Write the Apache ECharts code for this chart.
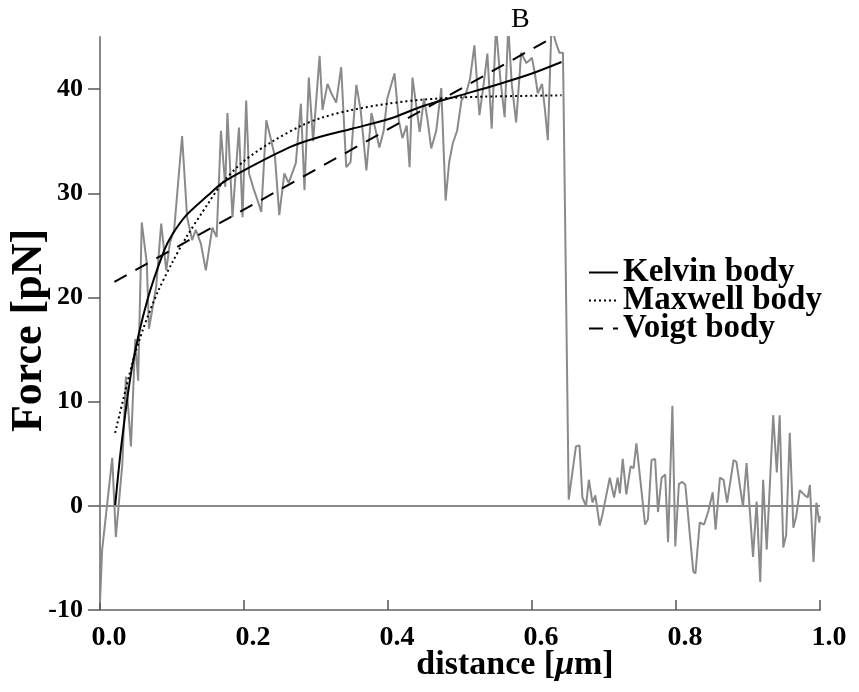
<!DOCTYPE html>
<html>
<head>
<meta charset="utf-8">
<script src="https://cdn.jsdelivr.net/npm/echarts@6.0.0/dist/echarts.min.js"></script>
<style>
  html, body { margin: 0; padding: 0; background: #fff; }
  #chart { width: 859px; height: 692px; }
</style>
</head>
<body>
<div id="chart"></div>
<script>
// measured force curve (grey)
const distance = [0.000,0.003,0.017,0.022,0.031,0.036,0.043,0.049,0.053,0.058,0.065,0.068,0.078,0.085,0.092,0.097,0.103,0.114,0.121,0.128,0.133,0.140,0.147,0.156,0.162,0.168,0.174,0.177,0.184,0.193,0.198,0.203,0.207,0.213,0.218,0.224,0.231,0.238,0.243,0.249,0.256,0.262,0.272,0.279,0.284,0.290,0.296,0.305,0.309,0.316,0.322,0.328,0.335,0.342,0.348,0.356,0.362,0.370,0.377,0.383,0.388,0.394,0.399,0.409,0.415,0.420,0.426,0.430,0.434,0.440,0.444,0.450,0.455,0.460,0.467,0.474,0.480,0.485,0.490,0.496,0.502,0.508,0.514,0.520,0.527,0.532,0.538,0.544,0.550,0.556,0.562,0.567,0.572,0.578,0.585,0.592,0.597,0.600,0.604,0.608,0.614,0.618,0.622,0.627,0.633,0.638,0.643,0.651,0.661,0.666,0.670,0.675,0.679,0.684,0.688,0.694,0.698,0.708,0.714,0.719,0.722,0.726,0.731,0.737,0.741,0.745,0.752,0.757,0.761,0.766,0.771,0.775,0.780,0.785,0.789,0.795,0.799,0.804,0.809,0.813,0.819,0.824,0.827,0.833,0.839,0.845,0.851,0.855,0.861,0.866,0.871,0.880,0.884,0.893,0.898,0.907,0.912,0.917,0.921,0.926,0.935,0.940,0.944,0.949,0.953,0.958,0.963,0.967,0.972,0.979,0.983,0.986,0.991,0.995,0.999,1.000];
const force = [-9.3,-4.2,4.6,-3,4,12.4,5.7,16,12,27.2,23.3,17,21,27.1,22.6,25.2,26.5,35.5,27.7,25.5,26.5,25.2,22.6,26.7,25.8,36,30.6,37.7,27.7,36.3,27.7,38.9,31.9,30.5,29.5,28.2,37,35,33.5,27.9,31.9,31,32.9,38.6,30.3,41.1,35,43.2,38,40.5,39.5,38.7,42.1,32.5,33,40.4,38,32.2,37.7,36,34.4,36,39.1,41.5,37,35.3,36.5,32.5,41.1,38,35.9,39.1,37,34.3,36,40.1,29.3,33,34.8,36,38.9,39.5,41,44.2,37.5,40,43.4,36.2,46,41,37.3,46,40.4,36.8,43.5,42.5,42.8,43,41.5,39.6,40.5,38,35.1,46,44.5,43.5,43.5,0.6,5.7,5.8,0.8,0,2.5,0.3,1,-1.9,-0.8,2.7,0.8,2.7,1.2,4.5,1.1,3.8,3.6,6,1.5,-1.8,-1.3,4.4,4.5,-0.6,2.7,3,-3.5,9.6,-3.9,2.1,2.3,2,-2.6,-6.3,-6.5,-1.6,-1.8,-0.5,1.3,-2.3,2.7,2.5,0.3,4.4,4.2,-0.1,4.1,-4.9,0.4,-7.3,2.5,-4.2,8.7,3.2,8.7,-4,-2.8,7,-2.1,-1,1.5,1,0.8,2,-5.4,0.3,-1.6,-1];

// fitted models
const kelvinX = [0.021,0.03,0.045,0.066,0.089,0.10,0.12,0.15,0.17,0.20,0.263,0.30,0.35,0.40,0.45,0.50,0.55,0.60,0.641];
const kelvinY = [0,6,13.5,19.8,24.5,26,27.9,29.8,31,32.2,34.4,35.3,36.2,37.1,38.4,39.4,40.4,41.5,42.6];
const maxwellX = [0.021,0.045,0.06,0.08,0.10,0.12,0.15,0.17,0.20,0.24,0.28,0.31,0.35,0.40,0.45,0.50,0.55,0.641];
const maxwellY = [7,13.7,17,20.5,23.3,25.8,29,31,33.1,35,36.5,37.3,38,38.6,39,39.2,39.3,39.4];
const voigtX = [0.02,0.63];
const voigtY = [21.5,45];

const xTicks = [0, 0.2, 0.4, 0.6, 0.8, 1.0];
const yTicks = [-10, 0, 10, 20, 30, 40];

const zip = (xs, ys) => xs.map((x, i) => [x, ys[i]]);

const chart = echarts.init(document.getElementById('chart'));
const serif = '"Liberation Serif", "DejaVu Serif", serif';

const fitLine = (name, xs, ys, type, smooth) => ({
    name: name,
    type: 'line',
    data: zip(xs, ys),
    symbol: 'none',
    smooth: smooth,
    z: 3,
    lineStyle: { color: '#000', width: 2, type: type },
    itemStyle: { color: '#000' }
});

chart.setOption({
    animation: false,
    backgroundColor: '#fff',
    title: {
        text: 'B',
        left: 506,
        top: 1,
        textStyle: { fontFamily: serif, fontWeight: 'normal', fontSize: 28, color: '#000' }
    },
    grid: { left: 100, right: 39, top: 37, bottom: 82, outerBoundsMode: 'none', containLabel: false },
    legend: {
        orient: 'vertical',
        left: 583,
        top: 251,
        itemWidth: 29,
        itemHeight: 14,
        itemGap: -5,
        itemStyle: { opacity: 0, color: 'transparent', borderWidth: 0 },
        data: ['Kelvin body', 'Maxwell body', 'Voigt body'],
        textStyle: { fontFamily: serif, fontWeight: 'bold', fontSize: 33, color: '#000', lineHeight: 30 }
    },
    xAxis: {
        type: 'value',
        min: 0,
        max: 1,
        interval: 0.2,
        name: 'distance [{mu|μ}m]',
        nameLocation: 'middle',
        nameGap: 38,
        nameMoveOverlap: false,
        nameTextStyle: {
            fontFamily: serif, fontWeight: 'bold', fontSize: 34, color: '#000',
            padding: [0, 0, 0, 110],
            rich: { mu: { fontFamily: serif, fontWeight: 'bold', fontStyle: 'italic', fontSize: 34, color: '#000' } }
        },
        axisLine: { onZero: false, lineStyle: { color: '#888', width: 2 } },
        axisTick: { inside: true, length: 10, customValues: xTicks, lineStyle: { color: '#555', width: 1.5 } },
        axisLabel: {
            customValues: xTicks,
            margin: 14,
            padding: [0, 0, 0, 18],
            formatter: v => v.toFixed(1),
            fontFamily: serif, fontWeight: 'bold', fontSize: 28, color: '#000'
        },
        splitLine: { show: false }
    },
    yAxis: {
        type: 'value',
        min: -10,
        max: 45,
        interval: 10,
        name: 'Force [pN]',
        nameLocation: 'middle',
        nameGap: 48,
        nameMoveOverlap: false,
        nameTextStyle: { fontFamily: serif, fontWeight: 'bold', fontSize: 44, color: '#000', padding: [0, 14, 0, 0] },
        axisLine: { onZero: false, lineStyle: { color: '#888', width: 2 } },
        axisTick: { length: 12, customValues: yTicks, lineStyle: { color: '#555', width: 1.5 } },
        axisLabel: {
            customValues: yTicks,
            margin: 17,
            fontFamily: serif, fontWeight: 'bold', fontSize: 26, color: '#000'
        },
        splitLine: { show: false }
    },
    series: [
        {
            name: 'measured',
            type: 'line',
            data: zip(distance, force),
            symbol: 'none',
            z: 2,
            lineStyle: { color: '#8a8a8a', width: 2 },
            itemStyle: { color: '#8a8a8a' },
            markLine: {
                silent: true,
                symbol: 'none',
                label: { show: false },
                lineStyle: { color: '#8a8a8a', width: 2, type: 'solid' },
                data: [{ yAxis: 0 }]
            }
        },
        fitLine('Kelvin body', kelvinX, kelvinY, 'solid', 0.3),
        fitLine('Maxwell body', maxwellX, maxwellY, [2, 3], 0.3),
        fitLine('Voigt body', voigtX, voigtY, [14, 10], false)
    ]
});
</script>
</body>
</html>
